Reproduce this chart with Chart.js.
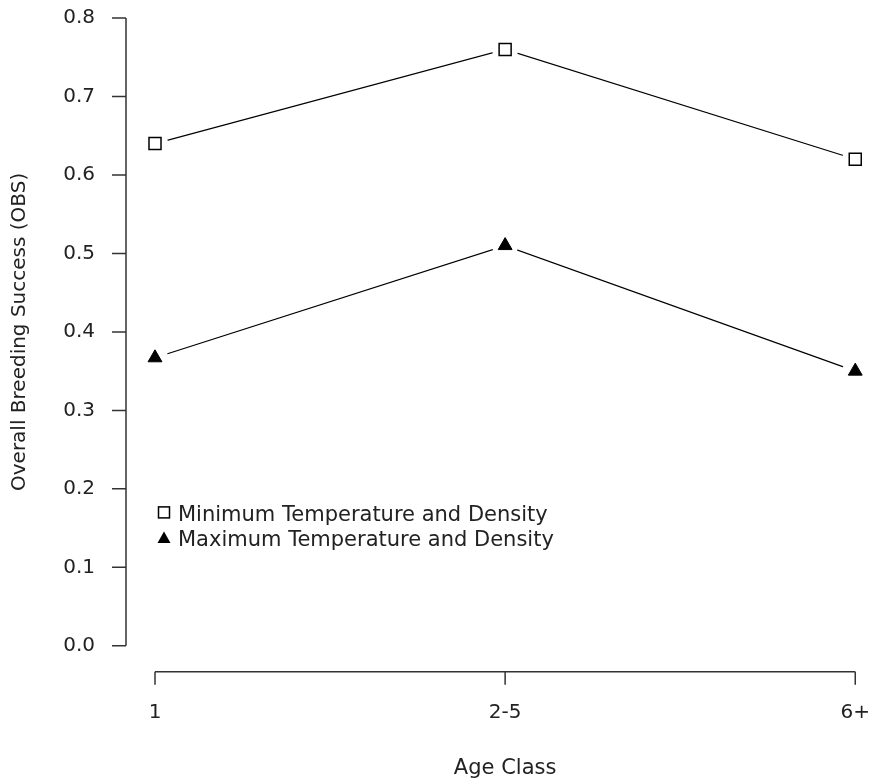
<!DOCTYPE html>
<html>
<head>
<meta charset="utf-8">
<script src="https://cdn.jsdelivr.net/npm/chart.js"></script>
<style>
  html, body { margin: 0; padding: 0; background: #fff; }
  #wrap { width: 870px; height: 783px; }
</style>
</head>
<body>
<div id="wrap"><canvas id="myChart"></canvas></div>
<script>
    // Data
    const ageClasses = ['1', '2-5', '6+'];
    const minTempDensity = [0.64, 0.76, 0.62];
    const maxTempDensity = [0.367, 0.51, 0.35];
    const yTicks = [0.0, 0.1, 0.2, 0.3, 0.4, 0.5, 0.6, 0.7, 0.8];
    const seriesNames = ['Minimum Temperature and Density', 'Maximum Temperature and Density'];

    const FONT = 'DejaVu Sans';
    const INK = '#222';
    const AXIS = '#333';

    Chart.defaults.font.family = FONT;
    Chart.defaults.font.size = 20;
    Chart.defaults.color = INK;

    // R-style detached axes and the legend in the plot
    const rAxes = {
        id: 'rAxes',
        afterDraw(chart) {
            const ctx = chart.ctx;
            const xs = chart.scales.x, ys = chart.scales.y;
            const area = chart.chartArea;
            ctx.save();
            ctx.strokeStyle = AXIS;
            ctx.lineWidth = 1.5;

            // y axis
            const ax = area.left - 29;
            ctx.beginPath();
            ctx.moveTo(ax, ys.getPixelForValue(yTicks[0]));
            ctx.lineTo(ax, ys.getPixelForValue(yTicks[yTicks.length - 1]));
            yTicks.forEach(v => {
                const py = ys.getPixelForValue(v);
                ctx.moveTo(ax, py);
                ctx.lineTo(ax - 14, py);
            });
            ctx.stroke();

            // x axis
            const ay = area.bottom + 26;
            ctx.beginPath();
            ctx.moveTo(xs.getPixelForValue(0), ay);
            ctx.lineTo(xs.getPixelForValue(ageClasses.length - 1), ay);
            ageClasses.forEach((c, i) => {
                const px = xs.getPixelForValue(i);
                ctx.moveTo(px, ay);
                ctx.lineTo(px, ay + 13);
            });
            ctx.stroke();

            // legend
            const lx = area.left + 9;
            const rows = [ys.getPixelForValue(0.17), ys.getPixelForValue(0.138)];
            ctx.strokeStyle = '#000';
            ctx.lineWidth = 1.5;
            ctx.strokeRect(lx - 5.5, rows[0] - 5.5, 11, 11);
            ctx.fillStyle = '#000';
            ctx.beginPath();
            ctx.moveTo(lx, rows[1] - 6);
            ctx.lineTo(lx + 6.5, rows[1] + 5.5);
            ctx.lineTo(lx - 6.5, rows[1] + 5.5);
            ctx.closePath();
            ctx.fill();
            ctx.fillStyle = INK;
            ctx.font = '21px "' + FONT + '"';
            ctx.textAlign = 'left';
            ctx.textBaseline = 'middle';
            ctx.fillText(seriesNames[0], lx + 14, rows[0] + 3);
            ctx.fillText(seriesNames[1], lx + 14, rows[1] + 3);
            ctx.restore();
        }
    };

    // lines, white gaps round the points, then the markers
    function lineSet(values) {
        return { data: values, borderColor: '#000', borderWidth: 1.2, pointRadius: 0, fill: false, order: 3 };
    }
    function gapSet(values) {
        return { data: values, showLine: false, pointRadius: 13, pointHoverRadius: 13,
                 pointBackgroundColor: '#fff', pointBorderWidth: 0, order: 2 };
    }

    const hiddenGrid = { display: true, color: 'rgba(0,0,0,0)', drawOnChartArea: false, drawTicks: true };

    const ctx = document.getElementById('myChart').getContext('2d');
    const myChart = new Chart(ctx, {
        type: 'line',
        data: {
            labels: ageClasses,
            datasets: [
                lineSet(minTempDensity),
                lineSet(maxTempDensity),
                gapSet(minTempDensity),
                gapSet(maxTempDensity),
                { label: seriesNames[0], data: minTempDensity, showLine: false, pointStyle: 'rect',
                  pointRadius: 8.5, pointBorderWidth: 1.5, pointBorderColor: '#000',
                  pointBackgroundColor: '#fff', order: 1 },
                { label: seriesNames[1], data: maxTempDensity, showLine: false, pointStyle: 'triangle',
                  pointRadius: 8, pointBorderWidth: 1, pointBorderColor: '#000',
                  pointBackgroundColor: '#000', order: 1 }
            ]
        },
        plugins: [rAxes],
        options: {
            responsive: true,
            maintainAspectRatio: false,
            animation: false,
            layout: { padding: { top: 18, right: 14, bottom: 2, left: 0 } },
            plugins: { legend: { display: false }, tooltip: { enabled: false } },
            events: [],
            scales: {
                x: {
                    offset: false,
                    grid: Object.assign({ tickLength: 55 }, hiddenGrid),
                    border: { display: false },
                    ticks: { padding: 0, color: INK, font: { size: 20 } },
                    title: { display: true, text: 'Age Class', color: INK, font: { size: 21 },
                             padding: { top: 31, bottom: 0 } }
                },
                y: {
                    min: 0,
                    max: 0.8,
                    afterFit(scale) { scale.width = 155; },
                    afterBuildTicks(scale) { scale.ticks = yTicks.map(v => ({ value: v })); },
                    grid: Object.assign({ tickLength: 60 }, hiddenGrid),
                    border: { display: false },
                    ticks: { padding: 0, color: INK, font: { size: 20 },
                             callback: v => v.toFixed(1) },
                    title: { display: true, text: 'Overall Breeding Success (OBS)', color: INK,
                             font: { size: 20 }, padding: { top: 8, bottom: 0 } }
                }
            }
        }
    });
</script>
</body>
</html>
